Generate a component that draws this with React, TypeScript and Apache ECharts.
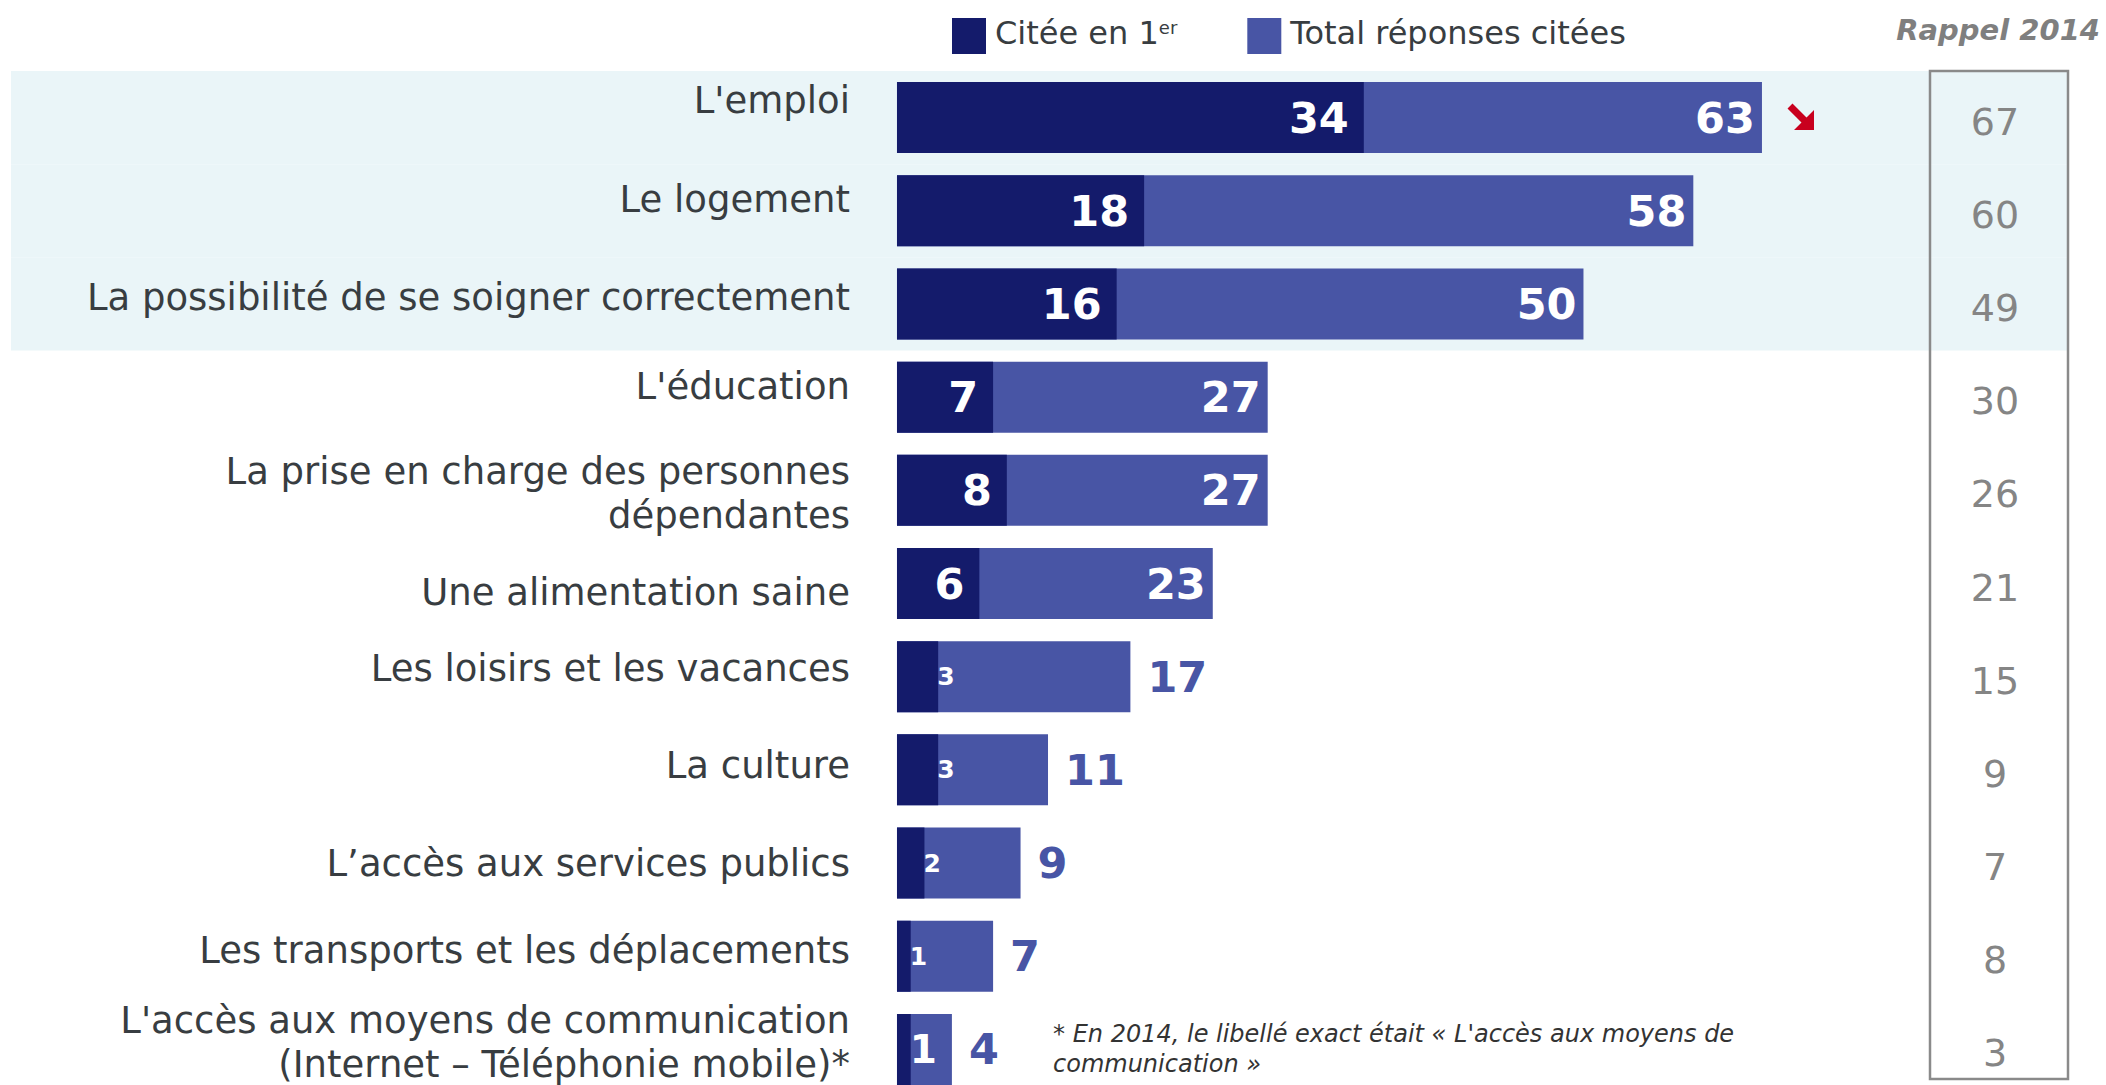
import React, { useEffect, useRef } from 'react';
import * as echarts from 'echarts';

// ---------- data ----------
const categories = [
  "L'emploi",
  'Le logement',
  'La possibilité de se soigner correctement',
  "L'éducation",
  'La prise en charge des personnes\ndépendantes',
  'Une alimentation saine',
  'Les loisirs et les vacances',
  'La culture',
  'L’accès aux services publics',
  'Les transports et les déplacements',
  "L'accès aux moyens de communication\n(Internet – Téléphonie mobile)*",
];
const citeeEn1er = [34, 18, 16, 7, 8, 6, 3, 3, 2, 1, 1];
const totalCitees = [63, 58, 50, 27, 27, 23, 17, 11, 9, 7, 4];
const rappel2014 = [67, 60, 49, 30, 26, 21, 15, 9, 7, 8, 3];
const legendNames = ['Citée en 1er', 'Total réponses citées'];
const rappelTitle = 'Rappel 2014';
const footnote = "* En 2014, le libellé exact était « L'accès aux moyens de\ncommunication »";
const highlightedRows = 3;

// ---------- styles ----------
const FONT = 'DejaVu Sans';
const DARK = '#141B6B';
const LIGHT = '#4855A5';
const BAND = '#EAF5F8';
const TEXT = '#383D41';
const GREY = '#858585';
const labelNudge = [-17, -11, -6, -11, 3, 9, -8, -4, 0, -6, -7];
const firstLabelSize = [43, 43, 43, 43, 43, 43, 25, 25, 25, 25, 39];

export default function App() {
  const ref = useRef<HTMLDivElement>(null);

  useEffect(() => {
    if (!ref.current) return;
    const chart = echarts.init(ref.current, undefined, { renderer: 'svg' });

    const baseCat = { fontSize: 37, lineHeight: 44, color: TEXT, fontFamily: FONT, align: 'right' };
    const catRich: any = {};
    labelNudge.forEach((d, i) => {
      catRich['r' + i] = {
        ...baseCat,
        padding: d < 0 ? [0, 0, -2 * d, 0] : [2 * d, 0, 0, 0],
      };
    });
    const catFormatter = (v: string, i: number) =>
      v
        .split('\n')
        .map((ln) => '{r' + i + '|' + ln + '}')
        .join('\n');

    const option: any = {
      animation: false,
      backgroundColor: '#ffffff',
      textStyle: { fontFamily: FONT },
      title: {
        text: rappelTitle,
        right: 6,
        top: 15,
        padding: 0,
        textStyle: { fontSize: 29, fontWeight: 'bold', fontStyle: 'italic', color: '#7F7F7F', fontFamily: FONT },
      },
      legend: {
        data: legendNames,
        left: 952,
        top: 17,
        padding: 0,
        itemWidth: 34,
        itemHeight: 36,
        itemGap: 70,
        icon: 'rect',
        selectedMode: false,
        formatter: (name: string) => (name === legendNames[0] ? '{n|Citée en 1}{s|er}' : '{n|' + name + '}'),
        textStyle: {
          color: TEXT,
          fontSize: 32,
          fontFamily: FONT,
          padding: [0, 0, 0, 4],
          rich: {
            n: { fontSize: 32, color: TEXT, fontFamily: FONT, lineHeight: 36, padding: [0, 0, 6, 0] },
            s: { fontSize: 18, color: TEXT, fontFamily: FONT, verticalAlign: 'top', lineHeight: 26 },
          },
        },
      },
      grid: { left: 11, right: 38, top: 71, height: 1025, containLabel: false, outerBoundsMode: 'none' },
      xAxis: { type: 'value', min: -64.53, max: 85.29, show: false },
      yAxis: [
        {
          type: 'category',
          inverse: true,
          data: categories,
          offset: -886,
          axisLine: { show: false, onZero: false },
          axisTick: { show: false },
          splitLine: { show: false },
          splitArea: {
            show: true,
            areaStyle: { color: categories.map((_, i) => (i < highlightedRows ? BAND : 'rgba(255,255,255,0)')) },
          },
          axisLabel: {
            interval: 0,
            margin: 47,
            fontSize: 37,
            lineHeight: 44,
            color: TEXT,
            fontFamily: FONT,
            align: 'right',
            formatter: catFormatter,
            rich: catRich,
          },
        },
        {
          type: 'category',
          inverse: true,
          position: 'right',
          data: categories,
          axisLine: { show: false, onZero: false },
          axisTick: { show: false },
          splitLine: { show: false },
          axisLabel: {
            interval: 0,
            inside: true,
            margin: 73,
            align: 'center',
            fontSize: 38,
            color: GREY,
            fontFamily: FONT,
            formatter: (_v: string, i: number) => '{v|' + rappel2014[i] + '}',
            rich: {
              v: { fontSize: 38, color: GREY, fontFamily: FONT, padding: [8, 0, 0, 0], align: 'center' },
            },
          },
        },
      ],
      series: [
        {
          name: legendNames[1],
          type: 'bar',
          yAxisIndex: 0,
          barWidth: 71,
          barGap: '-100%',
          itemStyle: { color: LIGHT },
          label: { show: true, fontSize: 43, fontWeight: 'bold', fontFamily: FONT },
          data: totalCitees.map((v) => ({
            value: v,
            label:
              v >= 20
                ? { position: 'insideRight', distance: 7, color: '#ffffff' }
                : { position: 'right', distance: 17, color: LIGHT },
          })),
        },
        {
          name: legendNames[0],
          type: 'bar',
          yAxisIndex: 0,
          barWidth: 71,
          barGap: '-100%',
          itemStyle: { color: DARK },
          label: { show: true, fontWeight: 'bold', color: '#ffffff', fontFamily: FONT },
          data: citeeEn1er.map((v, i) => ({
            value: v,
            label: {
              position: v <= 3 ? 'right' : 'insideRight',
              distance: v <= 3 ? -1 : 15,
              fontSize: firstLabelSize[i],
            },
          })),
        },
      ],
      graphic: [
        {
          type: 'rect',
          z: 100,
          shape: { x: 1930, y: 71, width: 138, height: 1008 },
          style: { fill: 'none', stroke: '#8A8A8A', lineWidth: 2.5 },
        },
        {
          type: 'polygon',
          z: 100,
          x: 1787,
          y: 103,
          shape: {
            points: [
              [5.5, 0.5],
              [19.5, 14.5],
              [27, 7],
              [27, 27],
              [7, 27],
              [14.5, 19.5],
              [0.5, 5.5],
            ],
          },
          style: { fill: '#C8001E' },
        },
        {
          type: 'text',
          z: 100,
          x: 1053,
          y: 1019,
          style: {
            text: footnote,
            fontSize: 24,
            fontStyle: 'italic',
            fontFamily: FONT,
            fill: '#333333',
            lineHeight: 30,
          },
        },
      ],
    };

    chart.setOption(option);
    return () => chart.dispose();
  }, []);

  return (
    <div
      ref={ref}
      style={{ position: 'absolute', left: 0, top: 0, width: 2106, height: 1085 }}
    />
  );
}
